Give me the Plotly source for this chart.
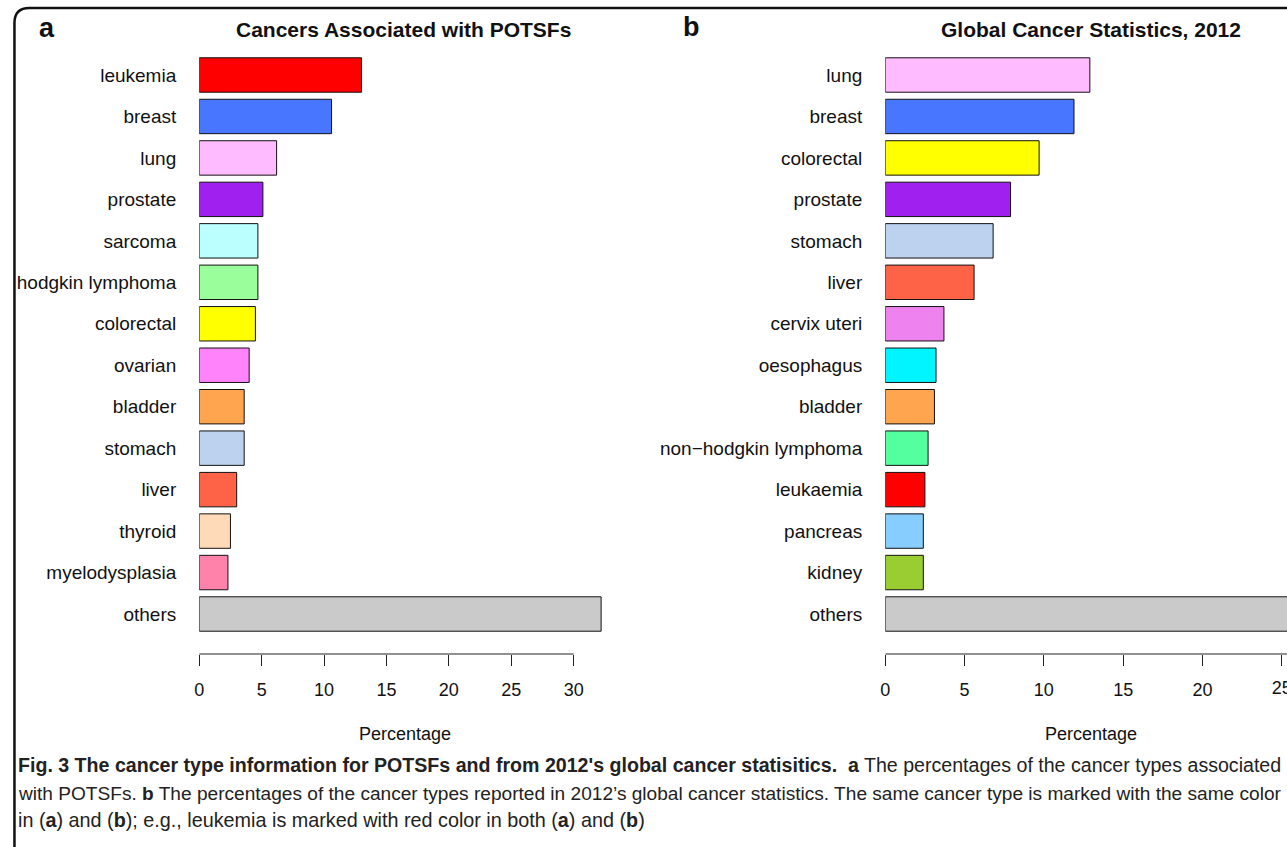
import plotly.graph_objects as go

# ---------------- data ----------------
cats_a = ["leukemia", "breast", "lung", "prostate", "sarcoma", "hodgkin lymphoma",
          "colorectal", "ovarian", "bladder", "stomach", "liver", "thyroid",
          "myelodysplasia", "others"]
vals_a = [13.0, 10.6, 6.2, 5.1, 4.7, 4.7, 4.5, 4.0, 3.6, 3.6, 3.0, 2.5, 2.3, 32.2]
colors_a = ["#FF0000", "#4876FF", "#FFBBFF", "#A020F0", "#BBFFFF", "#9AFF9A",
            "#FFFF00", "#FF83FA", "#FFA54F", "#BCD2EE", "#FF6347", "#FFDAB9",
            "#FF82AB", "#CACACA"]

cats_b = ["lung", "breast", "colorectal", "prostate", "stomach", "liver",
          "cervix uteri", "oesophagus", "bladder", "non\u2212hodgkin lymphoma",
          "leukaemia", "pancreas", "kidney", "others"]
vals_b = [12.9, 11.9, 9.7, 7.9, 6.8, 5.6, 3.7, 3.2, 3.1, 2.7, 2.5, 2.4, 2.4, 26.0]
colors_b = ["#FFBBFF", "#4876FF", "#FFFF00", "#A020F0", "#BCD2EE", "#FF6347",
            "#EE82EE", "#00F5FF", "#FFA54F", "#54FF9F", "#FF0000", "#87CEFF",
            "#9ACD32", "#CACACA"]

ticks_a = [0, 5, 10, 15, 20, 25, 30]
ticks_b = [0, 5, 10, 15, 20, 25]

title_a = "Cancers Associated with POTSFs"
title_b = "Global Cancer Statistics, 2012"
xlabel = "Percentage"
caption_lines = [
    "<b>Fig. 3 The cancer type information for POTSFs and from 2012's global cancer statisitics.  a</b> The percentages of the cancer types associated",
    "with POTSFs. <b>b</b> The percentages of the cancer types reported in 2012\u2019s global cancer statistics. The same cancer type is marked with the same color",
    "in (<b>a</b>) and (<b>b</b>); e.g., leukemia is marked with red color in both (<b>a</b>) and (<b>b</b>)",
]
caption_sizes = [19.6, 19.1, 19.8]

# ---------------- layout helpers ----------------
W, H = 1287, 847
FONT = "Liberation Sans, Arial, Helvetica, sans-serif"


def px_x(p):
    return p / W


def px_y(p):
    return 1 - p / H


range_a = [0, 34]
range_b = [0, 25.33]
axis_y_px = 654

fig = go.Figure()
fig.add_trace(go.Bar(x=vals_a, y=cats_a, orientation="h", width=0.83,
                     marker=dict(color=colors_a, line=dict(color="#111111", width=1)),
                     xaxis="x", yaxis="y", hoverinfo="x+y"))
fig.add_trace(go.Bar(x=vals_b, y=cats_b, orientation="h", width=0.83,
                     marker=dict(color=colors_b, line=dict(color="#111111", width=1)),
                     xaxis="x2", yaxis="y2", hoverinfo="x+y"))

# last tick label of panel b, cropped by the figure edge (clipped to its own strip)
last_b = [t for t in ticks_b if t == ticks_b[-1]]
fig.add_trace(go.Scatter(x=last_b, y=[0.5] * len(last_b), mode="text",
                         text=[str(t) for t in last_b], textposition="middle center",
                         textfont=dict(family=FONT, size=18, color="#111"),
                         cliponaxis=True, hoverinfo="skip",
                         xaxis="x3", yaxis="y3"))

xcommon = dict(anchor="free", position=px_y(axis_y_px), ticks="outside", ticklen=11,
               tickwidth=1, tickcolor="#222", showline=False, showgrid=False,
               zeroline=False, tickfont=dict(family=FONT, size=18, color="#111"),
               ticklabelstandoff=8, fixedrange=True)
ycommon = dict(domain=[px_y(640), px_y(50)], categoryorder="array", ticks="",
               showgrid=False, zeroline=False, showline=False,
               range=[13.627, -0.603], ticklabelstandoff=22,
               tickfont=dict(family=FONT, size=19, color="#111"), fixedrange=True)

fig.update_layout(
    width=W, height=H, margin=dict(l=0, r=0, t=0, b=0),
    paper_bgcolor="white", plot_bgcolor="white", showlegend=False,
    xaxis=dict(domain=[px_x(195), px_x(621)], range=range_a, tickvals=ticks_a, **xcommon),
    xaxis2=dict(domain=[px_x(883.7), 1.0], range=range_b, tickvals=ticks_b, **xcommon),
    yaxis=dict(anchor="x", categoryarray=cats_a, **ycommon),
    yaxis2=dict(anchor="x2", categoryarray=cats_b, **ycommon),
    xaxis3=dict(domain=[px_x(883.7), 1.0], range=range_b, visible=False,
                anchor="y3", fixedrange=True),
    yaxis3=dict(domain=[px_y(702), px_y(676)], range=[0, 1], visible=False,
                anchor="x3", fixedrange=True),
    font=dict(family=FONT, color="#111"),
)

# axis lines (R style: spanning first to last tick / cropped at right edge)
fig.add_shape(type="line", xref="x", yref="paper", x0=ticks_a[0], x1=ticks_a[-1],
              y0=px_y(axis_y_px), y1=px_y(axis_y_px), line=dict(color="#222", width=1))
fig.add_shape(type="line", xref="x2", yref="paper", x0=ticks_b[0], x1=range_b[1],
              y0=px_y(axis_y_px), y1=px_y(axis_y_px), line=dict(color="#222", width=1))

# rounded frame around the figure (cropped at right and bottom, like the reference)
L, T, r = 9.5, 8, 15
path = (f"M {px_x(L)},{px_y(H)} L {px_x(L)},{px_y(T + r)} "
        f"Q {px_x(L)},{px_y(T)} {px_x(L + r)},{px_y(T)} L {px_x(W)},{px_y(T)}")
fig.add_shape(type="path", xref="paper", yref="paper", path=path,
              line=dict(color="#111", width=2.5))

ann = []
ann.append(dict(text="<b>a</b>", x=px_x(42), y=px_y(28), font=dict(size=27)))
ann.append(dict(text="<b>b</b>", x=px_x(689), y=px_y(27), font=dict(size=27)))
ann.append(dict(text=f"<b>{title_a}</b>", x=px_x(400), y=px_y(30), font=dict(size=21)))
ann.append(dict(text=f"<b>{title_b}</b>", x=px_x(1090), y=px_y(30), font=dict(size=21)))
ann.append(dict(text=xlabel, x=px_x(402), y=px_y(734), font=dict(size=18)))
ann.append(dict(text=xlabel, x=px_x(1090), y=px_y(734), font=dict(size=18)))
for a in ann:
    a.update(xref="paper", yref="paper", showarrow=False, xanchor="center",
             yanchor="middle")
    a["font"].update(family=FONT, color="#111")
    fig.add_annotation(**a)

for line, yc, fs in zip(caption_lines, [765, 793, 820], caption_sizes):
    fig.add_annotation(text=line, x=px_x(11), y=px_y(yc), xref="paper", yref="paper",
                       showarrow=False, xanchor="left", yanchor="middle",
                       font=dict(family=FONT, size=fs, color="#222"))

post = "document.body.style.margin='0';"
fig.write_html("out.html", config={"displayModeBar": False}, post_script=post)
